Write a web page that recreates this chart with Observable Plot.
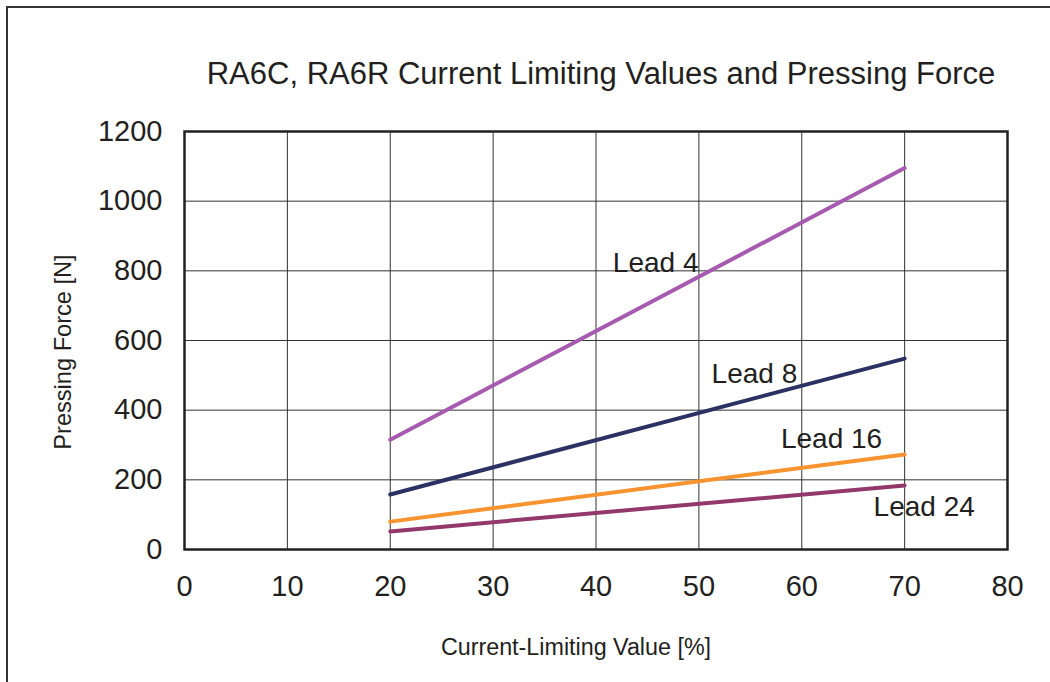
<!DOCTYPE html>
<html>
<head>
<meta charset="utf-8">
<script src="https://cdn.jsdelivr.net/npm/d3@7"></script>
<script src="https://cdn.jsdelivr.net/npm/@observablehq/plot@0.6"></script>
<style>
  html, body { margin: 0; padding: 0; background: #fff; overflow: hidden; width: 1050px; height: 682px; }
  #wrap { position: relative; width: 1050px; height: 682px; }
  #border { position: absolute; left: 6px; top: 6px; width: 1100px; height: 720px; border: 2px solid #333; box-sizing: border-box; }
  #chart { position: absolute; left: 0; top: 0; }
  svg { font-family: "Liberation Sans", Arial, Helvetica, sans-serif; }
</style>
</head>
<body>
<div id="wrap"><div id="border"></div><div id="chart"></div></div>
<script>
// ---- data ----
const currentLimit = [20, 70];            // Current-Limiting Value [%]
const lead4  = [315, 1095];               // Pressing Force [N]
const lead8  = [158, 548];
const lead16 = [80, 273];
const lead24 = [52, 184];
const seriesNames = ["Lead 4", "Lead 8", "Lead 16", "Lead 24"];
const xTicks = [0, 10, 20, 30, 40, 50, 60, 70, 80];
const yTicks = [0, 200, 400, 600, 800, 1000, 1200];
// label anchor points (data coordinates)
const labelX = [45.8, 55.4, 62.9, 71.9];
const labelY = [821, 505, 316, 123];

const titleText = "RA6C, RA6R Current Limiting Values and Pressing Force";
const xLabel = "Current-Limiting Value [%]";
const yLabel = "Pressing Force [N]";
const seriesColors = ["#a75bb0", "#2c3163", "#f7942f", "#93386a"];

const allSeries = [lead4, lead8, lead16, lead24];
const rows = [];
allSeries.forEach((vals, i) => vals.forEach((v, j) => rows.push({series: seriesNames[i], x: currentLimit[j], y: v})));
const labels = seriesNames.map((s, i) => ({series: s, x: labelX[i], y: labelY[i]}));

const ink = "#231f20";
const W = 1050, H = 682, ML = 184, MR = 43, MT = 131, MB = 133;

const chart = Plot.plot({
  width: W, height: H,
  marginLeft: ML, marginRight: MR, marginTop: MT, marginBottom: MB,
  style: {background: "transparent", color: ink, fontFamily: "'Liberation Sans', Arial, sans-serif"},
  x: {domain: [0, 80], ticks: xTicks},
  y: {domain: [0, 1200], ticks: yTicks},
  color: {domain: seriesNames, range: seriesColors},
  marks: [
    Plot.gridX(xTicks.slice(1, -1), {stroke: "#333", strokeOpacity: 1, strokeWidth: 1}),
    Plot.gridY(yTicks.slice(1, -1), {stroke: "#333", strokeOpacity: 1, strokeWidth: 1}),
    Plot.axisX({ticks: xTicks, tickSize: 0, tickPadding: 26, fontSize: 29, label: null, fill: ink, tickFormat: d => String(d)}),
    Plot.axisY({ticks: yTicks, tickSize: 0, tickPadding: 22, fontSize: 29, label: null, fill: ink, tickFormat: d => String(d)}),
    Plot.line(rows, {x: "x", y: "y", z: "series", stroke: "series", strokeWidth: 4}),
    Plot.text(labels, {x: "x", y: "y", text: "series", fontSize: 28, fill: ink, textAnchor: "middle"}),
    Plot.frame({stroke: ink, strokeWidth: 2.5})
  ]
});
document.getElementById("chart").appendChild(chart);

const svg = d3.select(chart);
svg.append("text")
  .attr("x", 601).attr("y", 84)
  .attr("text-anchor", "middle")
  .attr("font-size", 31)
  .attr("fill", ink)
  .text(titleText);
svg.append("text")
  .attr("x", 576).attr("y", 655)
  .attr("text-anchor", "middle")
  .attr("font-size", 23.3)
  .attr("fill", ink)
  .text(xLabel);
svg.append("text")
  .attr("transform", "translate(71,352) rotate(-90)")
  .attr("text-anchor", "middle")
  .attr("font-size", 23.6)
  .attr("fill", ink)
  .text(yLabel);
</script>
</body>
</html>
